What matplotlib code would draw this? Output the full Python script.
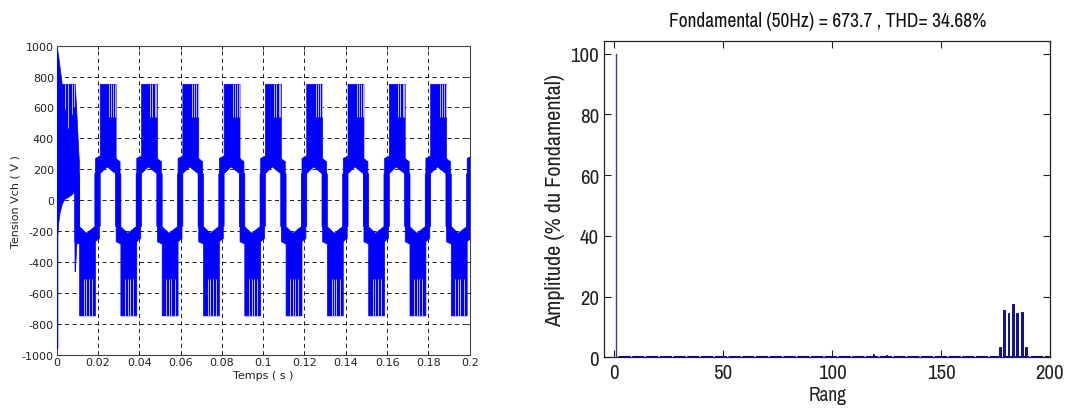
import matplotlib
matplotlib.use('Agg')
import matplotlib.pyplot as plt
from matplotlib import font_manager

# %% left plot - load voltage
# start of each 50 Hz period drawn on the time axis
period_starts = [0.00, 0.02, 0.04, 0.06, 0.08, 0.10, 0.12, 0.14, 0.16, 0.18, 0.20]
half_period = 0.01

# outline of one positive half-cycle, time relative to the period start
pos_t = [-0.0012, -0.0012, 0.0011, 0.0011, 0.0088, 0.0088, 0.0100, 0.0107,
         0.0107, 0.0085, 0.0085, 0.0066, 0.0045, 0.0026, 0.0011, 0.0011]
pos_v = [-170, 270, 285, 750, 750, 270, 255, 250,
         -170, -170, 172, 192, 215, 192, 172, -170]
# thin light gaps at the top of the pulse blocks
pos_gap_t = [0.0054, 0.0064, 0.0075, 0.0083]
pos_gap_end = 540
neg_gap_t = [0.0131, 0.0144, 0.0155, 0.0171]
neg_gap_end = -510

# first half-cycle (start-up transient), absolute time
start_t = [0.0000, 0.0000, 0.0004, 0.0010, 0.0016, 0.0022, 0.0027, 0.0090,
           0.0098, 0.0104, 0.0107, 0.0110, 0.0110, 0.0097, 0.0091, 0.0089,
           0.0088, 0.0080, 0.0060, 0.0040, 0.0028, 0.0017, 0.0010, 0.0006,
           0.0006, 0.0000]
start_v = [-960, 990, 975, 930, 865, 800, 750, 750,
           560, 400, 320, 250, -170, -300, -465, -465,
           70, 40, 20, 5, -25, -80, -150, -230,
           -960, -960]
start_gap_t = [0.0040, 0.0057, 0.0076, 0.0086]
start_gap_end = [590, 470, 560, 600]

t_ticks = [0, 0.02, 0.04, 0.06, 0.08, 0.1, 0.12, 0.14, 0.16, 0.18, 0.2]
t_labels = ['0', '0.02', '0.04', '0.06', '0.08', '0.1', '0.12', '0.14', '0.16', '0.18', '0.2']
v_ticks = [-1000, -800, -600, -400, -200, 0, 200, 400, 600, 800, 1000]
v_labels = ['-1000', '-800', '-600', '-400', '-200', '0', '200', '400', '600', '800', '1000']

# %% right plot - harmonic spectrum
fund_rang = [1]
fund_amp = [100]
harm_rang = [177, 179, 181, 183, 185, 187, 189]
harm_amp = [3.5, 15.5, 14.5, 17.5, 14.5, 15.0, 3.5]
minor_rang = [119, 125]
minor_amp = [1.0, 0.8]
floor_amp = 0.35
title = 'Fondamental (50Hz) = 673.7 , THD= 34.68%'

# %% pick a narrow font if one is installed
narrow = None
for f in font_manager.fontManager.ttflist:
	if ('Narrow' in f.name or 'Condensed' in f.name) and f.style == 'normal':
		narrow = f.name
		break
if narrow is None:
	for f in font_manager.fontManager.ttflist:
		if f.stretch in ('condensed', 'semi-condensed') and f.style == 'normal':
			narrow = f.name
			break
if narrow is not None:
	rfam = [narrow, 'DejaVu Sans']
	rtick, rlab, rylab, rtitle = 15, 14, 16, 14
else:
	rfam = ['Liberation Sans', 'DejaVu Sans']
	rtick, rlab, rylab, rtitle = 12.5, 12.5, 13, 12

# %%
fig = plt.figure(figsize=(10.65, 4.14), dpi=100)
blue = '#0000ff'
gap_col = '#b8b8ff'

ax1 = fig.add_axes([0.0532, 0.1413, 0.3878, 0.7459])
ax1.set_axisbelow(True)
ax1.grid(True, linestyle=(0, (5, 4)), color='black', linewidth=0.6)

ax1.fill(start_t, start_v, color=blue, lw=0.5, zorder=3)
ax1.vlines(start_gap_t, start_gap_end, 750, color=gap_col, lw=0.7, zorder=4)
for k, t0 in enumerate(period_starts):
	if k > 0:
		ax1.fill([t0 + t for t in pos_t], pos_v, color=blue, lw=0.5, zorder=3)
		ax1.vlines([t0 + t for t in pos_gap_t], pos_gap_end, 750, color=gap_col, lw=0.7, zorder=4)
	if k < len(period_starts) - 1:
		ax1.fill([t0 + half_period + t for t in pos_t], [-v for v in pos_v], color=blue, lw=0.5, zorder=3)
		ax1.vlines([t0 + t for t in neg_gap_t], -750, neg_gap_end, color=gap_col, lw=0.7, zorder=4)

ax1.set_xlim(0, 0.2)
ax1.set_ylim(-1000, 1000)
ax1.set_xticks(t_ticks)
ax1.set_xticklabels(t_labels)
ax1.set_yticks(v_ticks)
ax1.set_yticklabels(v_labels)
ax1.tick_params(direction='in', top=True, right=True, length=3, labelsize=8,
                colors='#222222', pad=2, width=0.6)
for s in ax1.spines.values():
	s.set_color('#444444')
	s.set_linewidth(0.8)
	s.set_zorder(2)
ax1.set_xlabel('Temps ( s )', fontsize=8, labelpad=2, color='#222222')
ax1.set_ylabel('Tension Vch ( V )', fontsize=8, labelpad=1, color='#222222')

ax2 = fig.add_axes([0.5676, 0.1345, 0.4183, 0.764])
ax2.hlines(floor_amp / 2, 1.5, 199.5, color='#000080', lw=2.2, linestyles=(0, (4, 0.5)))
ax2.bar(fund_rang, fund_amp, width=0.8, color='#3a3ab8', edgecolor='#3a3ab8', lw=0.3)
ax2.bar(harm_rang, harm_amp, width=0.8, color='#1010a0', edgecolor='#000080', lw=0.6)
ax2.bar(minor_rang, minor_amp, width=0.8, color='#1010a0', edgecolor='#000080', lw=0.6)
ax2.set_xlim(-4.5, 200)
ax2.set_ylim(0, 104.2)
ax2.set_xticks([0, 50, 100, 150, 200])
ax2.set_yticks([0, 20, 40, 60, 80, 100])
ax2.tick_params(direction='in', top=True, right=True, length=5, labelsize=rtick,
                colors='#222222', width=0.8, pad=4)
for lab in ax2.get_xticklabels() + ax2.get_yticklabels():
	lab.set_family(rfam)
for s in ax2.spines.values():
	s.set_color('#222222')
	s.set_linewidth(0.9)
ax2.set_xlabel('Rang', color='#222222', labelpad=2, family=rfam, size=rlab)
ax2.set_ylabel('Amplitude (% du Fondamental)', color='#222222', labelpad=4, family=rfam, size=rylab)
ax2.set_title(title, color='#111111', pad=11, family=rfam, size=rtitle)

fig.savefig('out.png', dpi=100, facecolor='white')
